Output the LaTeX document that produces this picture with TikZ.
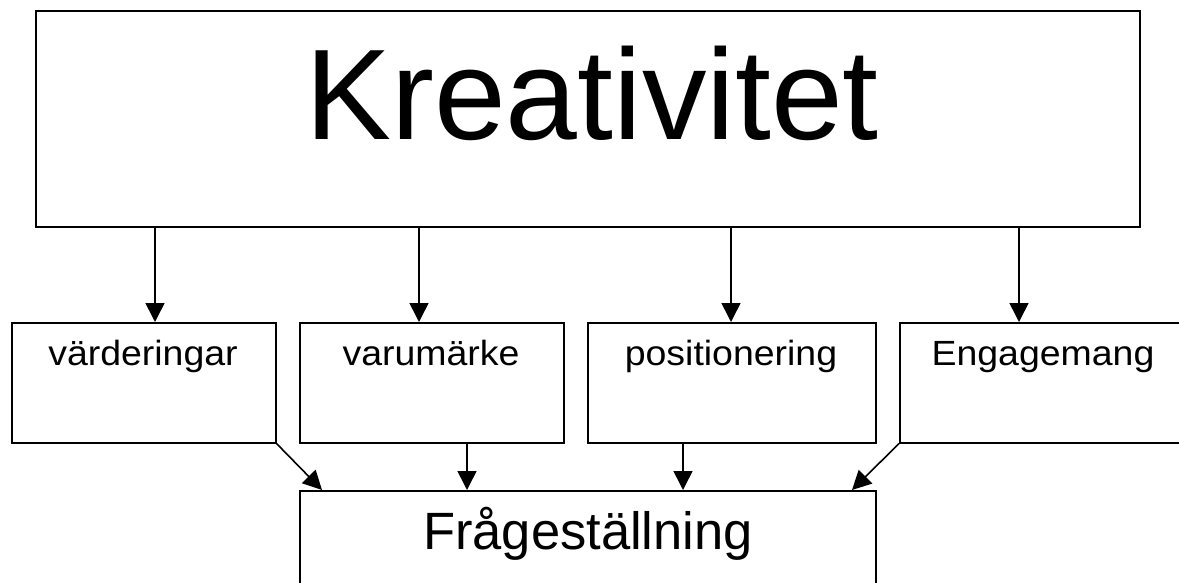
\documentclass[tikz,border=0pt]{standalone}
\usepackage{fontspec}
\usepackage{graphicx}
\setmainfont{Liberation Sans}
\usetikzlibrary{arrows.meta}

\tikzset{
  box/.style={draw=black, line width=1.6pt, rectangle, inner sep=0pt, anchor=north west, fill=none},
  bigbox/.style={box, line width=2.2pt},
  arr/.style={draw=black, line width=1.6pt, -{Triangle[width=19pt,length=19pt]}},
  lbl/.style={anchor=base, inner sep=0pt},
}

\begin{document}
\begin{tikzpicture}[x=1pt, y=-1pt]
  \useasboundingbox (0,0) rectangle (1179,583);
  \clip (0,0) rectangle (1179,583);
  \fill[white] (0,0) rectangle (1179,583);

  % boxes
  \node[bigbox, minimum width=1104pt, minimum height=216pt] (top) at (35,10) {};
  \node[box, minimum width=264pt, minimum height=120pt] (b1) at (11,322) {};
  \node[box, minimum width=264pt, minimum height=120pt] (b2) at (299,322) {};
  \node[box, minimum width=288pt, minimum height=120pt] (b3) at (587,322) {};
  \node[box, minimum width=288pt, minimum height=120pt] (b4) at (899,322) {};
  \node[box, minimum width=576pt, minimum height=120pt] (q) at (299,490) {};

  % labels
  \node[lbl] (tTop) at (592,140) {\fontsize{129pt}{129pt}\selectfont Kreativitet};
  \node[lbl] (t1) at (143,365.5) {\scalebox{1.07}[1]{\fontsize{35pt}{35pt}\selectfont värderingar}};
  \node[lbl] (t2) at (431,365.5) {\scalebox{1.07}[1]{\fontsize{35pt}{35pt}\selectfont varumärke}};
  \node[lbl] (t3) at (731,365.5) {\scalebox{1.07}[1]{\fontsize{35pt}{35pt}\selectfont positionering}};
  \node[lbl] (t4) at (1043,365.5) {\scalebox{1.07}[1]{\fontsize{35pt}{35pt}\selectfont Engagemang}};
  \node[lbl] (tq) at (588,549.5) {\fontsize{52.5pt}{52.5pt}\selectfont Frågeställning};

  % connectors from the top box
  \draw[arr] (top.south -| 155,0) -- (b1.north -| 155,0);
  \draw[arr] (top.south -| 419,0) -- (b2.north -| 419,0);
  \draw[arr] (top.south -| 731,0) -- (b3.north -| 731,0);
  \draw[arr] (top.south -| 1019,0) -- (b4.north -| 1019,0);

  % connectors into the bottom box
  \draw[arr] (b1.south east) -- (q.north -| 322,0);
  \draw[arr] (b2.south -| 467,0) -- (q.north -| 467,0);
  \draw[arr] (b3.south -| 683,0) -- (q.north -| 683,0);
  \draw[arr] (b4.south west) -- (q.north -| 852,0);
\end{tikzpicture}
\end{document}
